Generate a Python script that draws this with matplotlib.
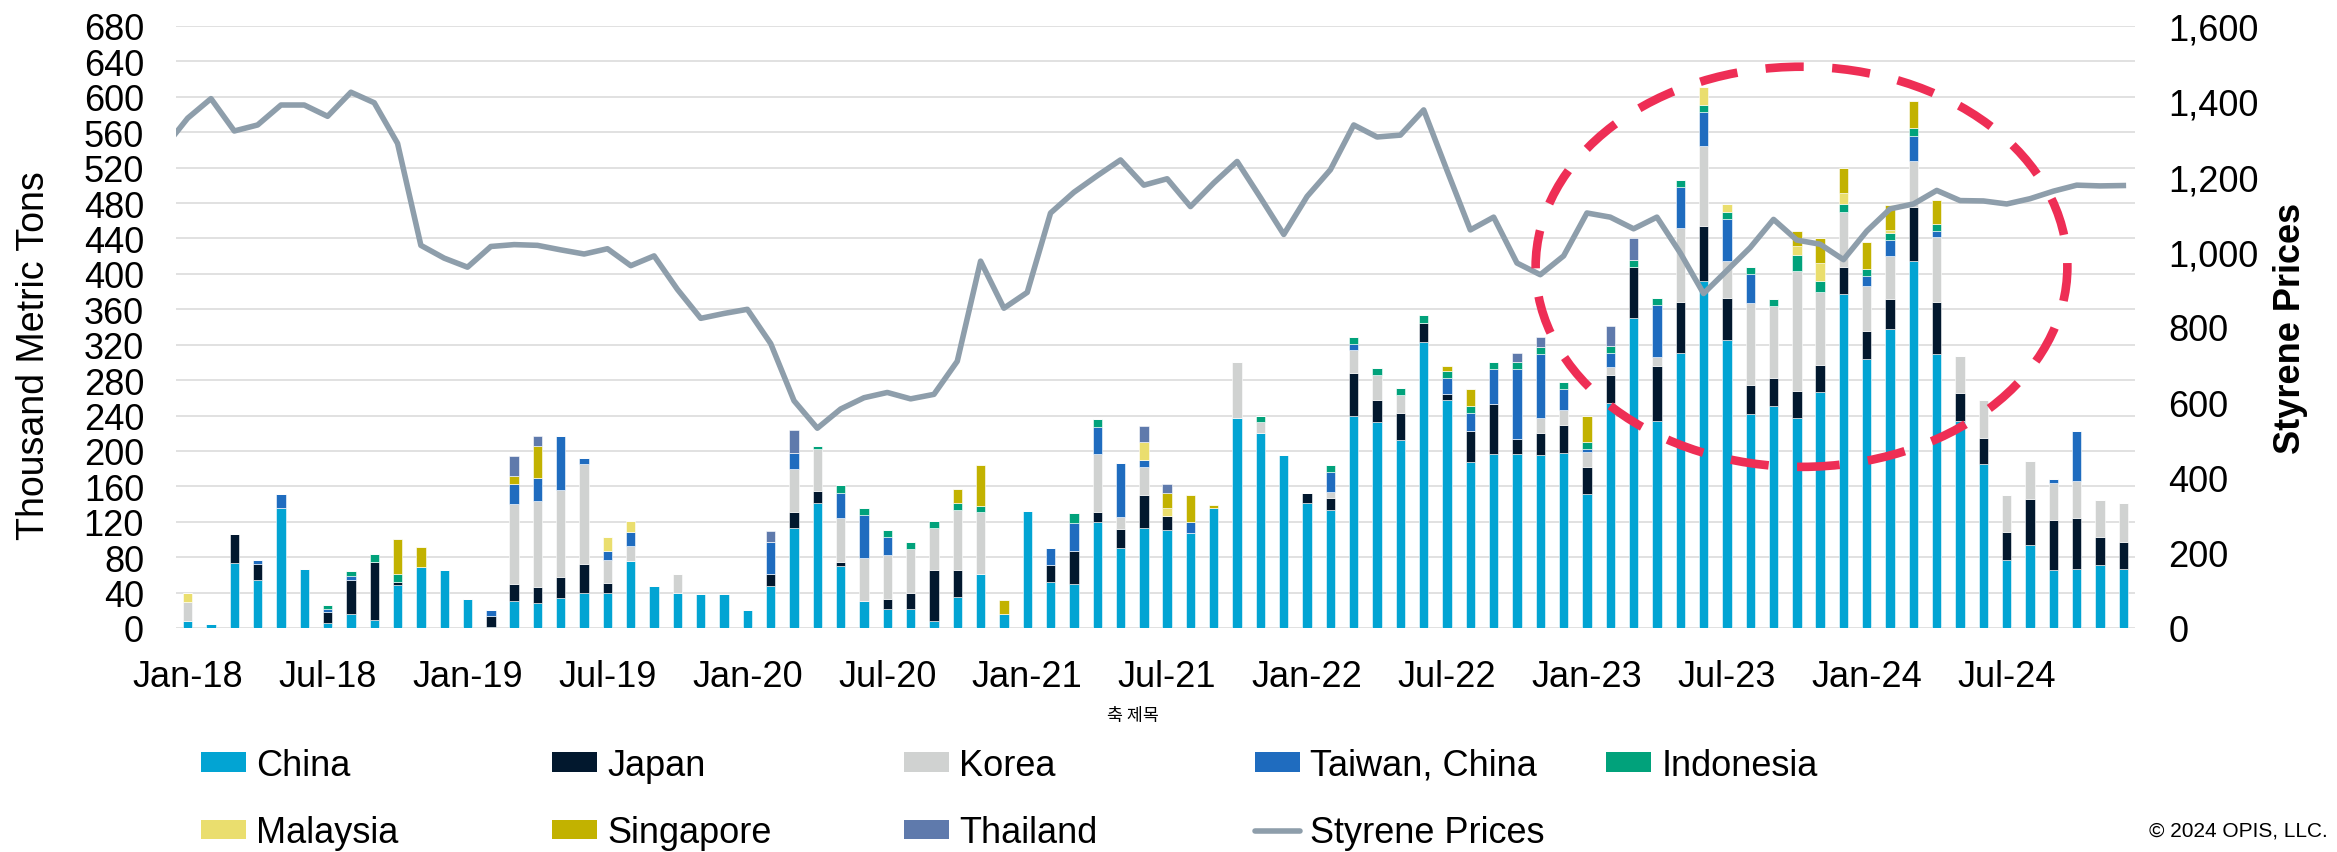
import numpy as np
import pandas as pd
import matplotlib
matplotlib.use("Agg")
import matplotlib.pyplot as plt
from matplotlib.patches import Ellipse, Patch
from matplotlib.lines import Line2D
from matplotlib.ticker import FuncFormatter

plt.rcParams['font.family'] = ['Liberation Sans', 'DejaVu Sans']
plt.rcParams['lines.scale_dashes'] = False

# Monthly axis, Jan-18 .. Dec-24
months = pd.date_range('2018-01-01', periods=84, freq='MS')
month_labels = [m.strftime('%b-%y') for m in months]
tick_labels = month_labels[::6]

# Exports by destination, thousand metric tons
china = [8, 5, 73, 54, 136, 67, 6, 16, 9, 49, 69, 66, 33, 1,
         30, 28, 34, 40, 40, 76, 47, 40, 38, 38, 20, 47, 113, 141,
         70, 31, 21, 21, 8, 35, 61, 16, 132, 52, 50, 120, 90, 113,
         111, 107, 136, 237, 220, 195, 141, 133, 239, 233, 212, 323, 257, 187,
         197, 197, 195, 198, 151, 254, 350, 234, 311, 392, 325, 242, 251, 237,
         267, 377, 304, 338, 414, 309, 234, 185, 77, 94, 65, 67, 71, 67]
japan = [0, 0, 33, 18, 0, 0, 12, 38, 65, 3, 0, 0, 0, 13,
         20, 18, 24, 32, 11, 0, 0, 0, 0, 0, 0, 14, 18, 14,
         5, 0, 12, 18, 57, 30, 0, 0, 0, 19, 37, 11, 22, 37,
         16, 0, 0, 0, 0, 0, 11, 14, 49, 25, 31, 22, 7, 35,
         56, 17, 25, 31, 31, 32, 58, 62, 57, 62, 48, 32, 31, 31,
         30, 31, 31, 34, 62, 59, 31, 30, 31, 52, 57, 57, 32, 30]
korea = [21, 0, 0, 0, 0, 0, 0, 0, 0, 0, 0, 0, 0, 0,
         90, 97, 98, 113, 26, 17, 0, 21, 0, 0, 0, 0, 49, 47,
         49, 48, 49, 50, 48, 68, 70, 0, 0, 0, 0, 66, 13, 32,
         0, 0, 0, 64, 13, 0, 0, 7, 26, 28, 20, 0, 0, 0,
         0, 0, 17, 17, 17, 9, 0, 10, 84, 91, 42, 93, 82, 135,
         83, 62, 51, 48, 52, 74, 42, 42, 42, 43, 42, 42, 42, 44]
taiwan = [0, 0, 0, 5, 15, 0, 4, 5, 0, 0, 0, 0, 0, 6,
          23, 27, 61, 7, 10, 15, 0, 0, 0, 0, 0, 36, 18, 0,
          28, 49, 21, 0, 0, 0, 0, 0, 0, 19, 32, 30, 61, 8,
          0, 13, 0, 0, 0, 0, 0, 22, 7, 0, 0, 0, 18, 21,
          39, 78, 72, 24, 3, 16, 0, 59, 46, 38, 47, 33, 0, 0,
          0, 0, 12, 18, 28, 6, 0, 0, 0, 0, 4, 57, 0, 0]
indonesia = [0, 0, 0, 0, 0, 0, 4, 5, 10, 9, 0, 0, 0, 0,
             0, 0, 0, 0, 0, 0, 0, 0, 0, 0, 0, 0, 0, 4,
             9, 8, 8, 8, 8, 8, 7, 0, 0, 0, 11, 9, 0, 0,
             0, 0, 0, 0, 7, 0, 0, 8, 8, 8, 8, 8, 8, 8,
             8, 8, 8, 8, 8, 8, 8, 8, 8, 8, 8, 8, 8, 18,
             12, 9, 8, 8, 9, 8, 0, 0, 0, 0, 0, 0, 0, 0]
malaysia = [10, 0, 0, 0, 0, 0, 0, 0, 0, 0, 0, 0, 0, 0,
            0, 0, 0, 0, 16, 13, 0, 0, 0, 0, 0, 0, 0, 0,
            0, 0, 0, 0, 0, 0, 0, 0, 0, 0, 0, 0, 0, 20,
            9, 0, 0, 0, 0, 0, 0, 0, 0, 0, 0, 0, 0, 0,
            0, 0, 0, 0, 0, 0, 0, 0, 0, 20, 9, 0, 0, 11,
            20, 12, 0, 4, 0, 0, 0, 0, 0, 0, 0, 0, 0, 0]
singapore = [0, 0, 0, 0, 0, 0, 0, 0, 0, 40, 22, 0, 0, 0,
             9, 36, 0, 0, 0, 0, 0, 0, 0, 0, 0, 0, 0, 0,
             0, 0, 0, 0, 0, 16, 46, 16, 0, 0, 0, 0, 0, 0,
             16, 30, 3, 0, 0, 0, 0, 0, 0, 0, 0, 0, 6, 19,
             0, 0, 0, 0, 30, 0, 0, 0, 0, 0, 0, 0, 0, 17,
             28, 29, 30, 28, 30, 28, 0, 0, 0, 0, 0, 0, 0, 0]
thailand = [0, 0, 0, 0, 0, 0, 0, 0, 0, 0, 0, 0, 0, 0,
            22, 11, 0, 0, 0, 0, 0, 0, 0, 0, 0, 13, 26, 0,
            0, 0, 0, 0, 0, 0, 0, 0, 0, 0, 0, 0, 0, 18,
            11, 0, 0, 0, 0, 0, 0, 0, 0, 0, 0, 0, 0, 0,
            0, 11, 12, 0, 0, 22, 24, 0, 0, 0, 0, 0, 0, 0,
            0, 0, 0, 0, 0, 0, 0, 0, 0, 0, 0, 0, 0, 0]

# Styrene prices, Dec-17 .. Dec-24 (first point sits left of the plot edge)
styrene = [1277,
           1355, 1407, 1321, 1337, 1390, 1390, 1360, 1424, 1396, 1288, 1017, 983, 959, 1014,
           1019, 1017, 1005, 994, 1008, 963, 989, 900, 823, 836, 847, 756, 604, 531,
           582, 612, 626, 609, 621, 709, 975, 850, 892, 1103, 1158, 1202, 1244, 1177,
           1194, 1120, 1183, 1240, 1144, 1046, 1147, 1218, 1337, 1305, 1310, 1377, 1216, 1058,
           1092, 970, 939, 989, 1103, 1092, 1061, 1092, 997, 889, 950, 1011, 1086, 1031,
           1020, 979, 1055, 1114, 1127, 1163, 1136, 1135, 1127, 1141, 1161, 1177, 1175, 1176]

countries = ['China', 'Japan', 'Korea', 'Taiwan, China', 'Indonesia',
             'Malaysia', 'Singapore', 'Thailand']
series = [china, japan, korea, taiwan, indonesia, malaysia, singapore, thailand]
colors = ['#02A4D3', '#02182E', '#D0D2D1', '#1F6CBF', '#01A27B',
          '#EADE6E', '#C2B200', '#5F7AAC']
line_color = '#8E9EAB'

W, H = 2337, 853
fig = plt.figure(figsize=(W / 100, H / 100), dpi=100)
ax = fig.add_axes([176 / W, 1 - 629 / H, (2135 - 176) / W, (629 - 27) / H])

x = np.arange(len(months))
bottom = np.zeros(len(months))
for name, vals, col in zip(countries, series, colors):
    ax.bar(x, vals, width=0.4, bottom=bottom, color=col, edgecolor='white',
           linewidth=0.4, label=name, zorder=2)
    bottom += np.array(vals)

ax.set_ylim(0, 680)
ax.set_yticks(np.arange(0, 681, 40))
ax.set_xticks(x[::6])
ax.set_xticklabels(tick_labels)
ax.grid(axis='y', color='#D9D9D9', linewidth=1.1)
ax.set_axisbelow(True)
ax.tick_params(axis='both', length=0, labelsize=26)
ax.tick_params(axis='x', pad=22)
ax.tick_params(axis='y', pad=23)
for s in ax.spines.values():
    s.set_visible(False)

ax2 = ax.twinx()
ax2.plot(np.arange(-1, len(months)), styrene, color=line_color, lw=4, zorder=3)
ax2.set_ylim(0, 1600)
ax2.set_yticks(np.arange(0, 1601, 200))
ax2.yaxis.set_major_formatter(FuncFormatter(lambda v, p: f'{v:,.0f}'))
ax2.tick_params(axis='y', length=0, labelsize=26, pad=24)
for s in ax2.spines.values():
    s.set_visible(False)

# dashed highlight ring around 2023-24
ring = Ellipse((69.2, 408), 22.8, 452, transform=ax.transData, fill=False,
               edgecolor='#EE2E55', lw=6.2, linestyle=(0, (27.5, 20.5)),
               capstyle='butt', zorder=5)
ax2.add_patch(ring)
ax.set_xlim(-0.5, 83.5)
ax2.set_ylim(0, 1600)

fig.text(34 / W, 1 - 356 / H, 'Thousand Metric Tons', rotation=90,
         ha='center', va='center', fontsize=27)
fig.text(2291 / W, 1 - 328 / H, 'Styrene Prices', rotation=90,
         ha='center', va='center', fontsize=26, fontweight='bold')
fig.text(1133 / W, 1 - 716 / H, '축 제목', ha='center', va='center',
         fontsize=12.5, family=['Noto Sans CJK KR', 'DejaVu Sans'])
fig.text(2328 / W, 1 - 831 / H, '© 2024 OPIS, LLC.', ha='right', va='center',
         fontsize=15)

# legend: five equal-width columns, two rows
h = {n: Patch(facecolor=c, edgecolor='none') for n, c in zip(countries, colors)}
h['Styrene Prices'] = Line2D([], [], color=line_color, lw=4,
                             solid_capstyle='round')
legend_cols = [['China', 'Malaysia'], ['Japan', 'Singapore'],
               ['Korea', 'Thailand'], ['Taiwan, China', 'Styrene Prices'],
               ['Indonesia']]
for k, names in enumerate(legend_cols):
    fig.legend(handles=[h[n] for n in names], labels=names, loc='upper left',
               bbox_to_anchor=((201 + k * 351.3) / W, 1 - 749 / H),
               frameon=False, fontsize=26, handlelength=1.25, handleheight=0.45,
               handletextpad=0.28, labelspacing=0.9, borderpad=0,
               borderaxespad=0)

fig.savefig('out.png', dpi=100)
